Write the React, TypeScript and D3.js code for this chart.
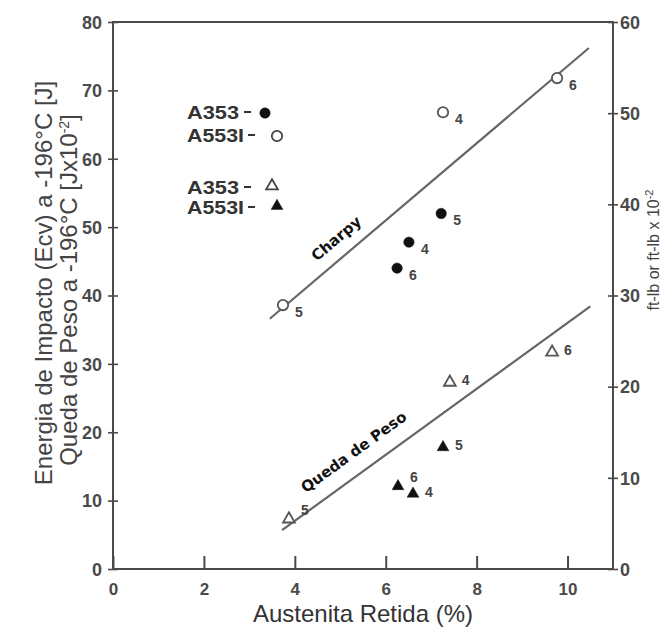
import React, { useEffect, useRef } from 'react';
import * as d3 from 'd3';

// eixos
const xTicks = [0, 2, 4, 6, 8, 10];
const leftTicks = [0, 10, 20, 30, 40, 50, 60, 70, 80];
const rightTicks = [0, 10, 20, 30, 40, 50, 60];

// Charpy - circulos (n = numero da amostra)
const charpyA353 = [
  { x: 7.22, y: 52.0, n: '5' },
  { x: 6.51, y: 47.8, n: '4' },
  { x: 6.25, y: 44.0, n: '6' },
];
const charpyA553I = [
  { x: 3.74, y: 38.6, n: '5' },
  { x: 7.26, y: 66.8, n: '4' },
  { x: 9.77, y: 71.8, n: '6' },
];

// Queda de peso - triangulos
const quedaA353 = [
  { x: 3.87, y: 7.3, n: '5' },
  { x: 7.41, y: 27.3, n: '4' },
  { x: 9.66, y: 31.7, n: '6' },
];
const quedaA553I = [
  { x: 7.26, y: 17.8, n: '5' },
  { x: 6.27, y: 12.1, n: '6' },
  { x: 6.6, y: 11.0, n: '4' },
];

// retas de tendencia
const charpyFit = [[3.45, 36.6], [10.47, 76.2]];
const quedaFit = [[3.72, 5.7], [10.5, 38.4]];

const legendItems = [
  { text: 'A353', shape: 'circle', filled: true },
  { text: 'A553I', shape: 'circle', filled: false },
  { text: 'A353', shape: 'triangle', filled: false },
  { text: 'A553I', shape: 'triangle', filled: true },
];

const W = 671;
const H = 634;

const App = () => {
  const ref = useRef<SVGSVGElement>(null);

  useEffect(() => {
    const svg = d3.select(ref.current);
    svg.selectAll('*').remove();

    const x = d3.scaleLinear().domain([0, 11]).range([113, 613]);
    const yL = d3.scaleLinear().domain([0, 80]).range([569, 22]);
    const yR = d3.scaleLinear().domain([0, 60]).range([569, 22]);

    const ink = '#4a4a4a';
    const tickFont = '"Liberation Sans", Arial, sans-serif';

    // caixa
    svg.append('rect')
      .attr('x', x(0)).attr('y', yL(80))
      .attr('width', x(11) - x(0)).attr('height', yL(0) - yL(80))
      .attr('fill', 'none').attr('stroke', ink).attr('stroke-width', 2);

    // eixo x
    const gx = svg.append('g')
      .attr('transform', `translate(0,${yL(0)})`)
      .call(d3.axisBottom(x).tickValues(xTicks).tickSize(-13).tickPadding(0));
    gx.select('.domain').remove();
    gx.selectAll('.tick line').attr('stroke', ink).attr('stroke-width', 2);
    gx.selectAll('.tick text')
      .attr('y', 14).attr('dy', '0.71em')
      .attr('fill', ink).style('font', `bold 17px ${tickFont}`);

    // eixo esquerdo
    const gl = svg.append('g')
      .attr('transform', `translate(${x(0)},0)`)
      .call(d3.axisLeft(yL).tickValues(leftTicks).tickSize(5));
    gl.select('.domain').remove();
    gl.selectAll('.tick line').attr('x1', 5).attr('x2', -5).attr('stroke', ink).attr('stroke-width', 1.6);
    gl.selectAll('.tick text')
      .attr('x', -11).attr('dy', '0.35em')
      .attr('fill', ink).style('font', `bold 18px ${tickFont}`);

    // eixo direito
    const gr = svg.append('g')
      .attr('transform', `translate(${x(11)},0)`)
      .call(d3.axisRight(yR).tickValues(rightTicks).tickSize(5));
    gr.select('.domain').remove();
    gr.selectAll('.tick line').attr('x1', -5).attr('x2', 5).attr('stroke', ink).attr('stroke-width', 1.6);
    gr.selectAll('.tick text')
      .attr('x', 7).attr('dy', '0.35em')
      .attr('fill', ink).style('font', `bold 18px ${tickFont}`);

    // retas
    const line = d3.line().x(d => x(d[0])).y(d => yL(d[1]));
    [charpyFit, quedaFit].forEach(fit => {
      svg.append('path')
        .attr('d', line(fit as [number, number][]))
        .attr('fill', 'none').attr('stroke', '#666').attr('stroke-width', 2.2);
    });

    // rotulos das retas
    const lineLabel = (fit, at, off, txt) => {
      const [[x0, y0], [x1, y1]] = fit;
      const px0 = x(x0), py0 = yL(y0), px1 = x(x1), py1 = yL(y1);
      const ang = Math.atan2(py1 - py0, px1 - px0);
      const t = (x(at) - px0) / (px1 - px0);
      const cx = px0 + t * (px1 - px0) + off * Math.sin(ang);
      const cy = py0 + t * (py1 - py0) - off * Math.cos(ang);
      svg.append('text')
        .attr('transform', `translate(${cx},${cy}) rotate(${(ang * 180) / Math.PI})`)
        .attr('text-anchor', 'middle').attr('dominant-baseline', 'central')
        .style('font', 'bold 15px "DejaVu Sans", sans-serif')
        .attr('fill', '#111')
        .text(txt);
    };
    lineLabel(charpyFit, 5.17, 18, 'Charpy');
    lineLabel(quedaFit, 5.57, 21, 'Queda de Peso');

    const circle = d3.symbol().type(d3.symbolCircle).size(85);
    const tri = d3.symbol().type(d3.symbolTriangle).size(60);

    const drawSeries = (data, shape, filled, above) => {
      data.forEach(d => {
        const px = x(d.x), py = yL(d.y);
        svg.append('path')
          .attr('d', shape === 'circle' ? circle() : tri())
          .attr('transform', `translate(${px},${py})`)
          .attr('fill', filled ? '#111' : '#fff')
          .attr('stroke', filled ? '#111' : '#555')
          .attr('stroke-width', filled ? 0.5 : 1.8);
        const dy = shape === 'circle' ? 7 : (above.includes(d.n) ? -9 : -2);
        svg.append('text')
          .attr('x', px + 12).attr('y', py + dy)
          .attr('dominant-baseline', 'central')
          .style('font', `bold 14px ${tickFont}`)
          .attr('fill', '#444')
          .text(d.n);
      });
    };
    drawSeries(charpyA353, 'circle', true, []);
    drawSeries(charpyA553I, 'circle', false, []);
    drawSeries(quedaA353, 'triangle', false, ['5']);
    drawSeries(quedaA553I, 'triangle', true, ['6']);

    // legenda
    const legendY = [112, 135, 187, 207];
    legendItems.forEach((it, i) => {
      const wide = it.text === 'A553I';
      const g = svg.append('g').attr('transform', `translate(187,${legendY[i]})`);
      g.append('text')
        .attr('dominant-baseline', 'central')
        .attr('textLength', wide ? 57 : 52)
        .attr('lengthAdjust', 'spacingAndGlyphs')
        .style('font', `bold 19px ${tickFont}`)
        .attr('fill', '#333')
        .text(it.text);
      const dashX = wide ? 61 : 57;
      g.append('line')
        .attr('x1', dashX).attr('x2', dashX + 7)
        .attr('y1', 0).attr('y2', 0)
        .attr('stroke', '#333').attr('stroke-width', 2);
      const sx = it.shape === 'circle' ? (wide ? 90 : 78) : (wide ? 90 : 85);
      g.append('path')
        .attr('d', it.shape === 'circle' ? circle() : tri())
        .attr('transform', `translate(${sx},${it.shape === 'triangle' ? -1 : 1})`)
        .attr('fill', it.filled ? '#111' : '#fff')
        .attr('stroke', it.filled ? '#111' : '#444')
        .attr('stroke-width', it.filled ? 0.5 : 1.8);
    });

    // titulos dos eixos
    svg.append('text')
      .attr('x', 363).attr('y', 622)
      .attr('text-anchor', 'middle')
      .style('font', '24px "Liberation Sans", Arial, sans-serif')
      .attr('fill', '#333')
      .text('Austenita Retida (%)');

    svg.append('text')
      .attr('transform', 'translate(52,283) rotate(-90)')
      .attr('text-anchor', 'middle')
      .style('font', '24px "Liberation Sans", Arial, sans-serif')
      .attr('fill', '#444')
      .text('Energia de Impacto (Ecv) a -196°C [J]');

    const t2 = svg.append('text')
      .attr('transform', 'translate(77,290) rotate(-90)')
      .attr('text-anchor', 'middle')
      .style('font', '24px "Liberation Sans", Arial, sans-serif')
      .attr('fill', '#444');
    t2.append('tspan').text('Queda de Peso a -196°C [Jx10');
    t2.append('tspan').attr('dy', -8).style('font-size', '14px').text('-2');
    t2.append('tspan').attr('dy', 8).text(']');

    const t3 = svg.append('text')
      .attr('transform', 'translate(659,250) rotate(-90)')
      .attr('text-anchor', 'middle')
      .style('font', '16px "Liberation Sans", Arial, sans-serif')
      .attr('fill', '#444');
    t3.append('tspan').text('ft-lb  or  ft-lb x 10');
    t3.append('tspan').attr('dy', -6).style('font-size', '11px').text('-2');
  }, []);

  return (
    <svg
      ref={ref}
      width={W}
      height={H}
      style={{ position: 'absolute', left: 0, top: 0, background: '#fff' }}
    />
  );
};

export default App;
